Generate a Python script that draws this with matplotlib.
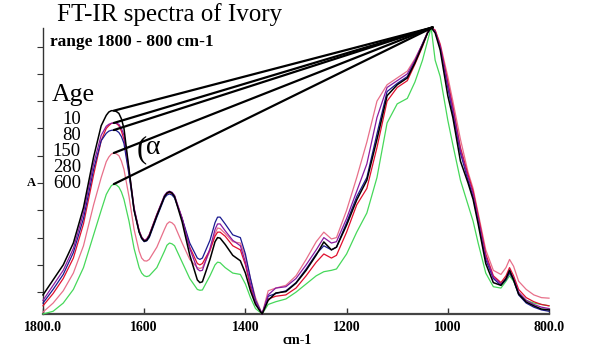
import matplotlib
matplotlib.use("Agg")
import matplotlib.pyplot as plt

# ---------------- data ----------------
wavenumber = [1800, 1780, 1760, 1740, 1720, 1700, 1685, 1675, 1670, 1665, 1660, 1655, 1650, 1645, 1640,
              1630, 1620, 1610, 1605, 1600, 1595, 1590, 1575, 1560, 1555, 1550, 1545, 1540, 1525, 1510,
              1495, 1490, 1485, 1470, 1460, 1455, 1450, 1440, 1425, 1410, 1400, 1390, 1380,
              1367, 1355, 1340, 1320, 1300, 1280, 1260, 1245, 1230, 1220, 1200, 1180, 1160, 1140, 1120, 1100,
              1080, 1065, 1050, 1040, 1033, 1025, 1015, 1000, 990, 975, 960, 950, 940, 925, 910, 895,
              885, 878, 870, 860, 845, 830, 815, 800]

age_10 = [.070, .125, .180, .260, .390, .575, .690, .728, .740, .745, .745, .742, .735, .715, .680,
          .530, .380, .300, .278, .267, .270, .285, .360, .430, .443, .448, .443, .430, .337, .216,
          .125, .115, .118, .200, .265, .280, .278, .255, .215, .195, .150, .085, .035,
          .000, .050, .077, .082, .113, .160, .216, .264, .235, .245, .326, .418, .490, .640, .800, .840,
          .865, .920, .985, 1.030, 1.050, 1.030, .967, .800, .720, .560, .480, .420, .330, .185, .115, .105,
          .130, .160, .125, .073, .044, .030, .018, .015]

age_80 = [.050, .105, .160, .240, .370, .550, .655, .688, .695, .699, .700, .699, .695, .680, .655,
          .530, .390, .305, .282, .270, .274, .290, .365, .435, .446, .450, .446, .435, .350, .240,
          .165, .158, .160, .240, .310, .330, .330, .305, .270, .250, .190, .110, .045,
          .000, .070, .095, .100, .130, .180, .235, .280, .260, .265, .350, .450, .550, .720, .830, .855,
          .880, .930, .990, 1.030, 1.050, 1.035, .980, .840, .750, .600, .500, .440, .350, .210, .135, .110,
          .130, .160, .130, .080, .050, .035, .025, .020]

age_150 = [.040, .090, .145, .225, .350, .530, .635, .662, .670, .673, .674, .672, .665, .650, .625,
           .510, .380, .300, .276, .265, .268, .280, .355, .425, .436, .440, .436, .425, .350, .260,
           .205, .200, .205, .270, .335, .355, .355, .330, .290, .280, .220, .130, .050,
           .000, .065, .075, .085, .115, .165, .220, .250, .235, .245, .335, .430, .500, .660, .815, .845,
           .870, .925, .990, 1.030, 1.050, 1.035, .975, .830, .735, .590, .490, .430, .340, .200, .130, .105,
           .125, .150, .125, .070, .040, .025, .015, .010]

age_red = [.030, .075, .130, .205, .330, .510, .635, .680, .690, .698, .700, .698, .690, .670, .640,
           .520, .385, .305, .282, .270, .275, .290, .365, .430, .441, .445, .441, .430, .350, .245,
           .185, .180, .185, .235, .285, .300, .300, .285, .250, .235, .180, .100, .040,
           .000, .055, .065, .070, .095, .140, .190, .220, .205, .215, .300, .400, .460, .610, .780, .830,
           .855, .915, .980, 1.030, 1.050, 1.040, .985, .850, .760, .610, .510, .450, .360, .220, .140, .115,
           .140, .170, .140, .090, .060, .045, .035, .030]

age_280 = [.007, .040, .085, .150, .250, .400, .500, .558, .575, .586, .590, .587, .580, .560, .530,
           .430, .310, .230, .205, .195, .194, .200, .245, .310, .330, .338, .334, .325, .260, .200,
           .170, .167, .170, .230, .295, .315, .313, .295, .265, .260, .210, .130, .060,
           .000, .085, .095, .105, .140, .200, .265, .300, .275, .280, .380, .500, .630, .780, .840, .865,
           .890, .935, .990, 1.035, 1.050, 1.040, .990, .870, .780, .640, .520, .460, .370, .235, .160, .145,
           .170, .200, .175, .120, .090, .070, .060, .058]

age_600 = [.000, .010, .040, .090, .170, .290, .380, .438, .455, .470, .476, .473, .465, .447, .420,
           .340, .240, .170, .150, .140, .137, .140, .170, .230, .252, .260, .257, .250, .190, .130,
           .090, .087, .088, .140, .180, .190, .188, .170, .150, .145, .110, .060, .020,
           .000, .035, .045, .055, .080, .110, .140, .155, .160, .165, .220, .300, .370, .500, .700, .770,
           .790, .850, .930, 1.000, 1.050, .930, .870, .710, .620, .490, .400, .340, .260, .150, .100, .095,
           .120, .140, .120, .075, .050, .040, .035, .030]

age_labels = ["10", "80", "150", "280", "600"]
x_ticks = [1800, 1600, 1400, 1200, 1000, 800]
x_tick_labels = ["1800.0", "1600", "1400", "1200", "1000", "800.0"]
y_ticks = [0.08, 0.18, 0.28, 0.38, 0.48, 0.58, 0.68, 0.78, 0.88, 0.98]
apex_wn = 1030
peak_wn = 1660

# ---------------- figure ----------------
W, H = 591, 359
fig = plt.figure(figsize=(W / 100, H / 100), dpi=100)
fig.patch.set_facecolor("white")
ax = fig.add_axes([43 / W, 1 - 314 / H, (549 - 43) / W, (314 - 28) / H])

serif = ["Liberation Serif", "DejaVu Serif"]

series = [
    (age_600, "#46d85a", 0.9),
    (age_280, "#e8708a", 0.9),
    (age_red, "#e0102e", 0.9),
    (age_150, "#1a1a90", 0.9),
    (age_80, "#8a1aa0", 0.9),
    (age_10, "#000000", 1.1),
]
for vals, col, lw in series:
    ax.plot(wavenumber, vals, color=col, lw=lw, clip_on=False, zorder=3,
            solid_joinstyle="round")

# lines from main peak to the amide I peak of the labelled curves
ipk = wavenumber.index(peak_wn)
iap = wavenumber.index(1033)
for vals in [age_10, age_80, age_150, age_280, age_600]:
    ax.plot([apex_wn, peak_wn], [vals[iap], vals[ipk]], color="black", lw=1.6,
            clip_on=False, zorder=4, solid_capstyle="round")

ax.set_xlim(1800, 800)
ax.set_ylim(0, 1.048)
ax.set_xticks(x_ticks)
ax.set_xticklabels(x_tick_labels, fontfamily=serif, fontweight="bold", fontsize=10)
ax.set_yticks(y_ticks)
ax.set_yticklabels([])
ax.tick_params(axis="x", direction="in", length=4, width=1, pad=5, colors="#333333", labelcolor="black")
ax.tick_params(axis="y", direction="out", length=4, width=0.8, colors="#333333")
for s in ["top", "right"]:
    ax.spines[s].set_visible(False)
ax.spines["bottom"].set_linewidth(1.6)
ax.spines["bottom"].set_color("#444444")
ax.spines["left"].set_linewidth(1.0)
ax.spines["left"].set_color("#333333")

# ---------------- texts ----------------
def ftext(x, y, s, **kw):
    fig.text(x / W, 1 - y / H, s, fontfamily=serif, **kw)

ftext(57, 15, "FT-IR spectra of Ivory", fontsize=18, va="center", ha="left")
ftext(50, 42, "range 1800 - 800 cm-1", fontsize=12.5, fontweight="bold", va="center", ha="left")
ftext(52, 95, "Age", fontsize=18.5, va="center", ha="left")
age_y = [119, 135, 151, 167, 183]
for lab, yy in zip(age_labels, age_y):
    ftext(81, yy, lab, fontsize=13.5, va="center", ha="right")
ftext(137, 150, "(", fontsize=22, va="center", ha="left")
ftext(146, 147, "α", fontsize=20, va="center", ha="left")
ftext(31, 183, "A", fontsize=9, fontweight="bold", va="center", ha="center")
ftext(297, 340, "cm-1", fontsize=10, fontweight="bold", va="center", ha="center")

fig.savefig("out.png", dpi=100, facecolor="white")
